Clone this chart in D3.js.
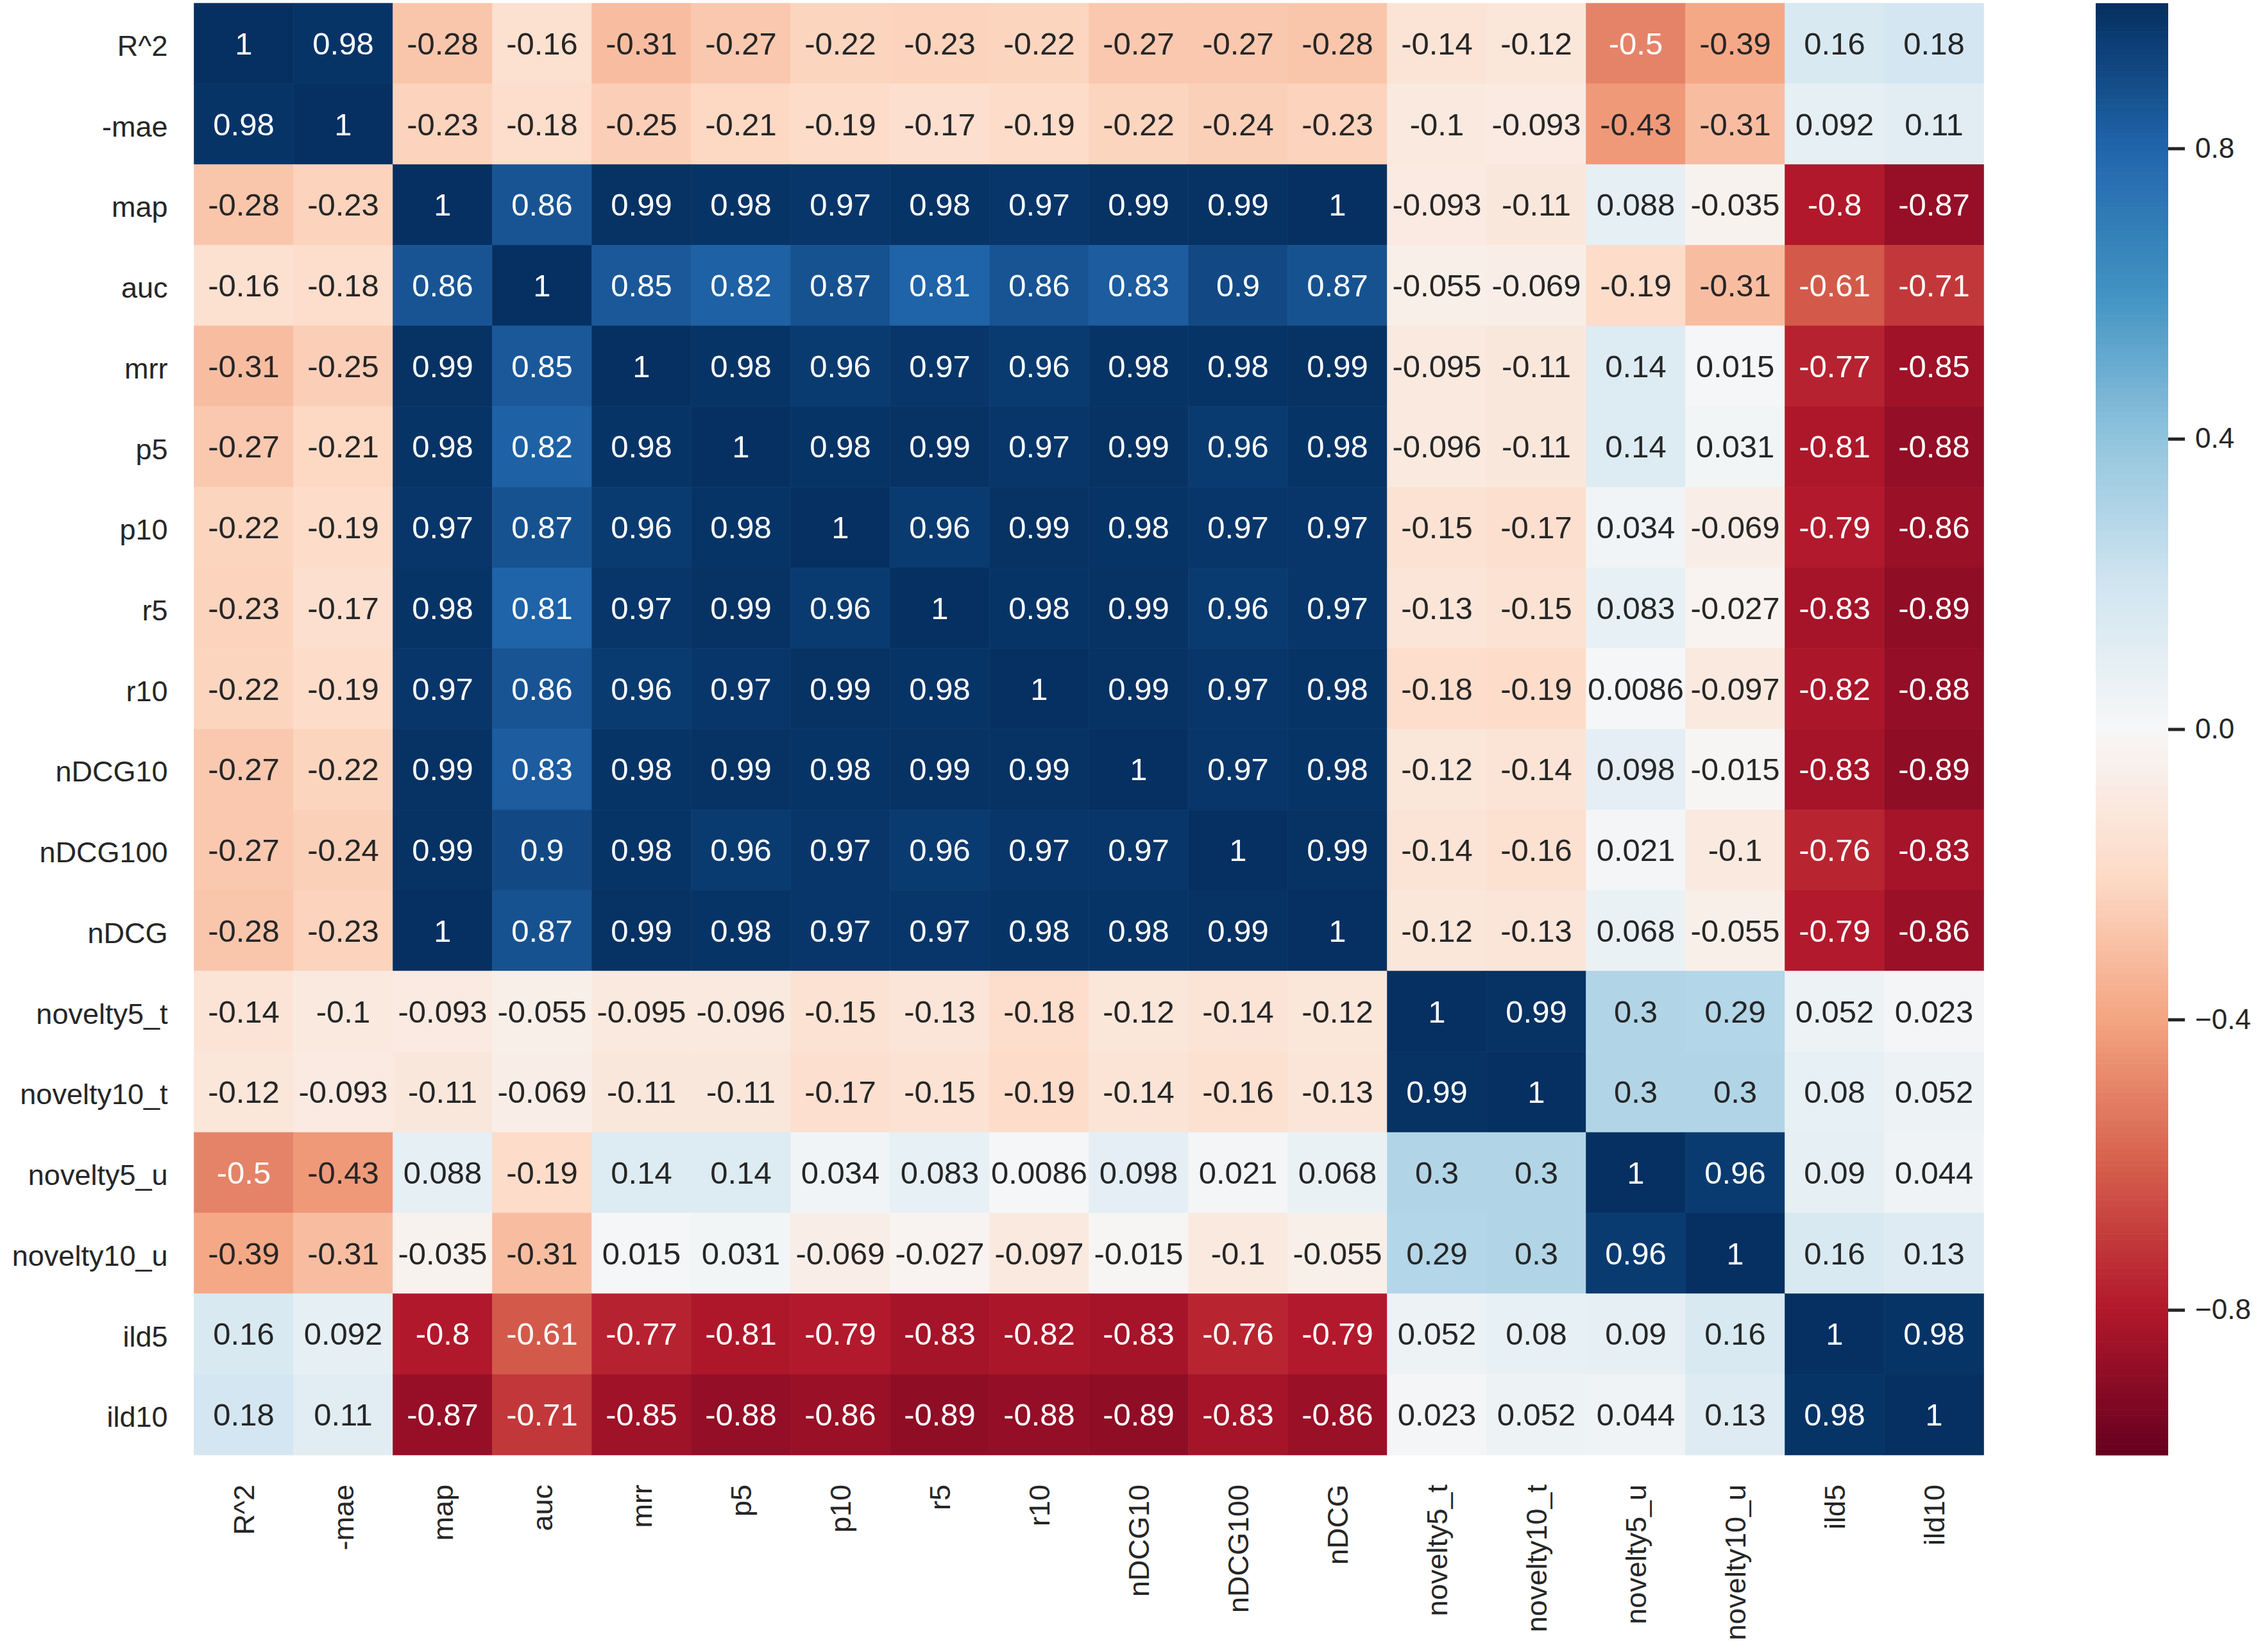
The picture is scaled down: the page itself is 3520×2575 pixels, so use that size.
<!DOCTYPE html>
<html>
<head>
<meta charset="utf-8">
<script src="https://cdn.jsdelivr.net/npm/d3@7"></script>
<style>
  body { margin: 0; background: #fff; }
  text { font-family: "Liberation Sans", Arial, sans-serif; }
</style>
</head>
<body>
<svg id="chart"></svg>
<script>
// metric names (rows and columns are the same)
const metrics = ['R^2', '-mae', 'map', 'auc', 'mrr', 'p5', 'p10', 'r5', 'r10',
  'nDCG10', 'nDCG100', 'nDCG', 'novelty5_t', 'novelty10_t', 'novelty5_u',
  'novelty10_u', 'ild5', 'ild10'];

// correlation matrix, one row per metric
const corr = [
  [1, 0.98, -0.28, -0.16, -0.31, -0.27, -0.22, -0.23, -0.22, -0.27, -0.27, -0.28, -0.14, -0.12, -0.5, -0.39, 0.16, 0.18],
  [0.98, 1, -0.23, -0.18, -0.25, -0.21, -0.19, -0.17, -0.19, -0.22, -0.24, -0.23, -0.1, -0.093, -0.43, -0.31, 0.092, 0.11],
  [-0.28, -0.23, 1, 0.86, 0.99, 0.98, 0.97, 0.98, 0.97, 0.99, 0.99, 1, -0.093, -0.11, 0.088, -0.035, -0.8, -0.87],
  [-0.16, -0.18, 0.86, 1, 0.85, 0.82, 0.87, 0.81, 0.86, 0.83, 0.9, 0.87, -0.055, -0.069, -0.19, -0.31, -0.61, -0.71],
  [-0.31, -0.25, 0.99, 0.85, 1, 0.98, 0.96, 0.97, 0.96, 0.98, 0.98, 0.99, -0.095, -0.11, 0.14, 0.015, -0.77, -0.85],
  [-0.27, -0.21, 0.98, 0.82, 0.98, 1, 0.98, 0.99, 0.97, 0.99, 0.96, 0.98, -0.096, -0.11, 0.14, 0.031, -0.81, -0.88],
  [-0.22, -0.19, 0.97, 0.87, 0.96, 0.98, 1, 0.96, 0.99, 0.98, 0.97, 0.97, -0.15, -0.17, 0.034, -0.069, -0.79, -0.86],
  [-0.23, -0.17, 0.98, 0.81, 0.97, 0.99, 0.96, 1, 0.98, 0.99, 0.96, 0.97, -0.13, -0.15, 0.083, -0.027, -0.83, -0.89],
  [-0.22, -0.19, 0.97, 0.86, 0.96, 0.97, 0.99, 0.98, 1, 0.99, 0.97, 0.98, -0.18, -0.19, 0.0086, -0.097, -0.82, -0.88],
  [-0.27, -0.22, 0.99, 0.83, 0.98, 0.99, 0.98, 0.99, 0.99, 1, 0.97, 0.98, -0.12, -0.14, 0.098, -0.015, -0.83, -0.89],
  [-0.27, -0.24, 0.99, 0.9, 0.98, 0.96, 0.97, 0.96, 0.97, 0.97, 1, 0.99, -0.14, -0.16, 0.021, -0.1, -0.76, -0.83],
  [-0.28, -0.23, 1, 0.87, 0.99, 0.98, 0.97, 0.97, 0.98, 0.98, 0.99, 1, -0.12, -0.13, 0.068, -0.055, -0.79, -0.86],
  [-0.14, -0.1, -0.093, -0.055, -0.095, -0.096, -0.15, -0.13, -0.18, -0.12, -0.14, -0.12, 1, 0.99, 0.3, 0.29, 0.052, 0.023],
  [-0.12, -0.093, -0.11, -0.069, -0.11, -0.11, -0.17, -0.15, -0.19, -0.14, -0.16, -0.13, 0.99, 1, 0.3, 0.3, 0.08, 0.052],
  [-0.5, -0.43, 0.088, -0.19, 0.14, 0.14, 0.034, 0.083, 0.0086, 0.098, 0.021, 0.068, 0.3, 0.3, 1, 0.96, 0.09, 0.044],
  [-0.39, -0.31, -0.035, -0.31, 0.015, 0.031, -0.069, -0.027, -0.097, -0.015, -0.1, -0.055, 0.29, 0.3, 0.96, 1, 0.16, 0.13],
  [0.16, 0.092, -0.8, -0.61, -0.77, -0.81, -0.79, -0.83, -0.82, -0.83, -0.76, -0.79, 0.052, 0.08, 0.09, 0.16, 1, 0.98],
  [0.18, 0.11, -0.87, -0.71, -0.85, -0.88, -0.86, -0.89, -0.88, -0.89, -0.83, -0.86, 0.023, 0.052, 0.044, 0.13, 0.98, 1],
];

const cbarTicks = [0.8, 0.4, 0, -0.4, -0.8];

const width = 3520;
const height = 2575;
const heat = { left: 302.5, right: 3092.5, top: 5, bottom: 2268 };
const cbar = { left: 3267, right: 3380 };
const ink = '#262626';

// matplotlib RdBu, linear between the 11 brewer stops, 256 entries
const rdbuStops = ['#67001f', '#b2182b', '#d6604d', '#f4a582', '#fddbc7', '#f7f7f7',
  '#d1e5f0', '#92c5de', '#4393c3', '#2166ac', '#053061'];
const ramp = d3.scaleLinear()
  .domain(d3.range(rdbuStops.length).map((i) => i / (rdbuStops.length - 1)))
  .range(rdbuStops)
  .interpolate(d3.interpolateRgb);
const norm = d3.scaleLinear().domain([-1, 1]).range([0, 1]).clamp(true);
const lutColor = (i) => ramp(i / 255);
const cmap = (v) => lutColor(Math.min(255, Math.floor(norm(v) * 256)));

// same rule seaborn uses to pick annotation colour
function luminance(color) {
  const c = d3.rgb(color);
  const lin = [c.r, c.g, c.b].map((x) => {
    const s = x / 255;
    return s <= 0.03928 ? s / 12.92 : Math.pow((s + 0.055) / 1.055, 2.4);
  });
  return 0.2126 * lin[0] + 0.7152 * lin[1] + 0.0722 * lin[2];
}

const svg = d3.select('#chart')
  .attr('width', width)
  .attr('height', height)
  .style('background', '#fff');

const x = d3.scaleBand().domain(metrics).range([heat.left, heat.right]);
const y = d3.scaleBand().domain(metrics).range([heat.top, heat.bottom]);

const cells = [];
corr.forEach((row, r) => {
  row.forEach((v, c) => {
    cells.push({ row: metrics[r], col: metrics[c], value: v });
  });
});

const g = svg.append('g');

g.selectAll('rect.cell')
  .data(cells)
  .join('rect')
  .attr('class', 'cell')
  .attr('x', (d) => x(d.col))
  .attr('y', (d) => y(d.row))
  .attr('width', x.bandwidth())
  .attr('height', y.bandwidth())
  .attr('fill', (d) => cmap(d.value))
  .attr('stroke', (d) => cmap(d.value))
  .attr('stroke-width', 0.6);

g.selectAll('text.annot')
  .data(cells)
  .join('text')
  .attr('class', 'annot')
  .attr('x', (d) => x(d.col) + x.bandwidth() / 2)
  .attr('y', (d) => y(d.row) + y.bandwidth() / 2)
  .attr('text-anchor', 'middle')
  .attr('dominant-baseline', 'central')
  .attr('font-size', 49)
  .attr('fill', (d) => (luminance(cmap(d.value)) > 0.408 ? ink : '#ffffff'))
  .text((d) => String(d.value));

// row labels
svg.append('g')
  .selectAll('text')
  .data(metrics)
  .join('text')
  .attr('x', heat.left - 41)
  .attr('y', (d) => y(d) + y.bandwidth() / 2)
  .attr('dy', '0.08em')
  .attr('text-anchor', 'end')
  .attr('dominant-baseline', 'central')
  .attr('font-size', 45)
  .attr('fill', ink)
  .text((d) => d);

// column labels, rotated
svg.append('g')
  .selectAll('text')
  .data(metrics)
  .join('text')
  .attr('transform', (d) => `translate(${x(d) + x.bandwidth() / 2}, ${heat.bottom + 46}) rotate(-90)`)
  .attr('text-anchor', 'end')
  .attr('dominant-baseline', 'central')
  .attr('font-size', 45)
  .attr('fill', ink)
  .text((d) => d);

// colorbar
const cy = d3.scaleLinear().domain([-1, 1]).range([heat.bottom, heat.top]);
const bands = d3.range(256);
const step = 2 / 256;
svg.append('g')
  .selectAll('rect')
  .data(bands)
  .join('rect')
  .attr('x', cbar.left)
  .attr('width', cbar.right - cbar.left)
  .attr('y', (i) => cy(-1 + (i + 1) * step))
  .attr('height', (i) => cy(-1 + i * step) - cy(-1 + (i + 1) * step) + 0.6)
  .attr('fill', (i) => lutColor(i));

const cAxis = svg.append('g')
  .attr('transform', `translate(${cbar.right}, 0)`)
  .call(d3.axisRight(cy)
    .tickValues(cbarTicks)
    .tickFormat(d3.format('.1f'))
    .tickSize(26)
    .tickPadding(16));

cAxis.select('.domain').remove();
cAxis.selectAll('.tick line')
  .attr('stroke', ink)
  .attr('stroke-width', 5);
cAxis.selectAll('.tick text')
  .attr('font-size', 44)
  .attr('font-family', '"Liberation Sans", Arial, sans-serif')
  .attr('fill', ink);
</script>
</body>
</html>
